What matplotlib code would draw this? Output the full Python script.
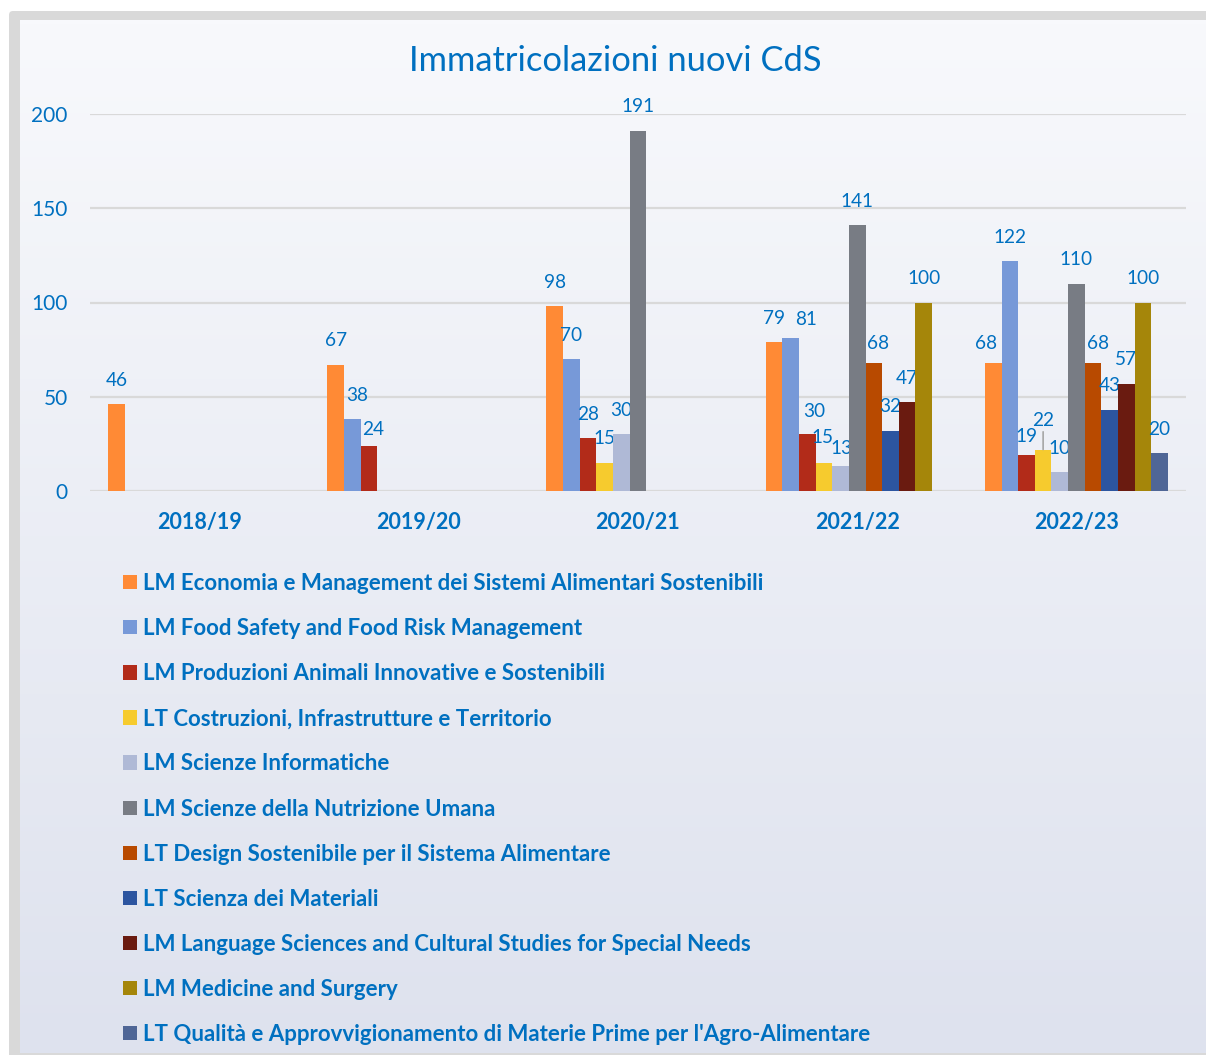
import numpy as np
import matplotlib
matplotlib.use("Agg")
import matplotlib.pyplot as plt
from matplotlib.patches import Patch, FancyBboxPatch

plt.rcParams['font.family'] = ['Lato', 'DejaVu Sans']

categories = ['2018/19', '2019/20', '2020/21', '2021/22', '2022/23']

economia = [46, 67, 98, 79, 68]
food_safety = [None, 38, 70, 81, 122]
produzioni = [None, 24, 28, 30, 19]
costruzioni = [None, None, 15, 15, 22]
informatiche = [None, None, 30, 13, 10]
nutrizione = [None, None, 191, 141, 110]
design = [None, None, None, 68, 68]
materiali = [None, None, None, 32, 43]
language = [None, None, None, 47, 57]
medicine = [None, None, None, 100, 100]
qualita = [None, None, None, None, 20]

series_names = [
    "LM Economia e Management dei Sistemi Alimentari Sostenibili",
    "LM Food Safety and Food Risk Management",
    "LM Produzioni Animali Innovative e Sostenibili",
    "LT Costruzioni, Infrastrutture e Territorio",
    "LM Scienze Informatiche",
    "LM Scienze della Nutrizione Umana",
    "LT Design Sostenibile per il Sistema Alimentare",
    "LT Scienza dei Materiali",
    "LM Language Sciences and Cultural Studies for Special Needs",
    "LM Medicine and Surgery",
    "LT Qualità e Approvvigionamento di Materie Prime per l'Agro-Alimentare",
]
series_values = [economia, food_safety, produzioni, costruzioni, informatiche,
                 nutrizione, design, materiali, language, medicine, qualita]
colors = ['#FF8A35', '#7799D8', '#B22B19', '#F6CB2E', '#AFB9D6', '#787C84',
          '#B84A00', '#2C55A0', '#6A1B10', '#A5860A', '#4F6696']

text_blue = '#0070C0'

# label nudges (dx, dy in pixels) where the labels were moved to avoid overlaps
label_nudge = {
    (1, 1): (5, 24), (2, 1): (4, 16),
    (1, 3): (15, 19), (2, 3): (7, 23), (3, 3): (-1, 25), (4, 3): (1, 18), (6, 3): (4, 19),
    (0, 4): (-7, 19), (2, 4): (0, 19), (3, 4): (0, 29), (6, 4): (5, 19),
}
leader = {(3, 4)}

fig = plt.figure(figsize=(12.06, 10.55), dpi=100)
px = 72 / fig.dpi

# background: white margin, grey frame, soft vertical gradient
bg = fig.add_axes([0, 0, 1, 1], zorder=-10)
bg.set_xlim(0, 1206)
bg.set_ylim(1055, 0)
bg.axis('off')
bg.add_patch(FancyBboxPatch((9, 11), 1300, 1100, boxstyle='round,pad=0,rounding_size=4',
                            facecolor='#D9D9D9', edgecolor='none'))
grad = np.linspace(0, 1, 256).reshape(-1, 1)
top = np.array([248, 249, 252]) / 255
bot = np.array([222, 226, 238]) / 255
img = top + (bot - top) * grad[:, :, None]
bg.imshow(img, extent=(20, 1206, 1053, 20), aspect='auto', zorder=1)

ax = fig.add_axes([90 / 1206, 1 - 491 / 1055, 1096 / 1206, 377 / 1055])
ax.set_facecolor('none')

x = np.arange(len(categories))
w = 0.0759
n = len(series_values)
for i, (vals, col) in enumerate(zip(series_values, colors)):
    idx = [j for j, v in enumerate(vals) if v is not None]
    pos = [x[j] + (i - (n - 1) / 2) * w for j in idx]
    hts = [vals[j] for j in idx]
    ax.bar(pos, hts, width=w, color=col, edgecolor='none', zorder=3)
    for j, p, h in zip(idx, pos, hts):
        dx, dy = label_nudge.get((i, j), (0, 24))
        arrow = None
        if (i, j) in leader:
            arrow = dict(arrowstyle='-', color='#A6A6A6', lw=1.2, shrinkA=0, shrinkB=0)
        ax.annotate(str(h), (p, h), xytext=(dx * px, dy * px), textcoords='offset points',
                    ha='center', va='center', color=text_blue, fontsize=13.7,
                    arrowprops=arrow)

ax.set_xlim(-0.5, len(categories) - 0.5)
ax.set_ylim(0, 200)
ax.set_yticks([0, 50, 100, 150, 200])
ax.set_xticks(x)
ax.set_xticklabels(categories, fontweight='bold')
ax.tick_params(axis='y', length=0, pad=16, labelsize=15, labelcolor=text_blue)
ax.tick_params(axis='x', length=0, pad=15, labelsize=15.5, labelcolor=text_blue)
ax.grid(axis='y', color='#D9D9D9', lw=1.6, zorder=0)
ax.set_axisbelow(True)
for s in ax.spines.values():
    s.set_visible(False)

fig.text(0.51, 1 - 61 / 1055, "Immatricolazioni nuovi CdS", ha='center', va='center',
         fontsize=24.8, color=text_blue)

handles = [Patch(facecolor=c, edgecolor='none') for c in colors]
leg = fig.legend(handles, series_names, loc='upper left',
                 bbox_to_anchor=(123 / 1206, 1 - 573 / 1055), frameon=False,
                 prop={'weight': 'bold', 'size': 16},
                 labelcolor=text_blue, handlelength=0.62, handleheight=0.62,
                 handletextpad=0.27, labelspacing=1.085, borderpad=0, borderaxespad=0)

fig.savefig('out.png', dpi=100)
